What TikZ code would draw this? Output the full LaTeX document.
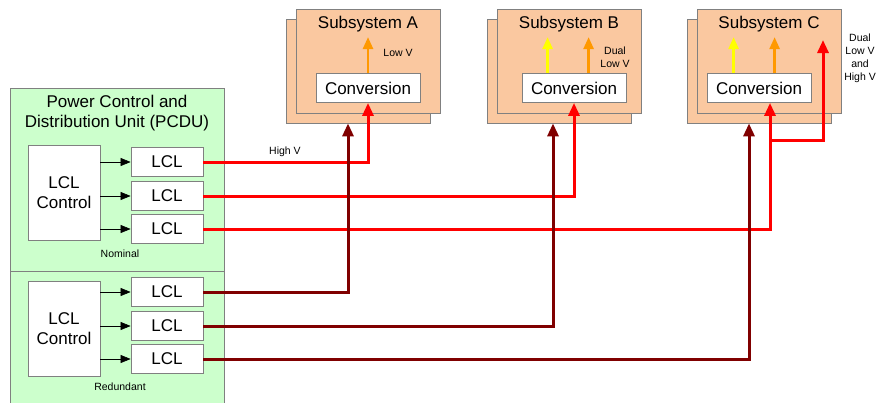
\documentclass[tikz,border=0pt]{standalone}
\usepackage{fontspec}
\setmainfont{Liberation Sans}
\usetikzlibrary{arrows.meta,positioning,calc}
\definecolor{pcdugreen}{RGB}{204,255,204}
\definecolor{syspeach}{RGB}{250,200,160}
\definecolor{edgegray}{RGB}{128,128,128}
\definecolor{hired}{RGB}{255,0,0}
\definecolor{redund}{RGB}{128,0,0}
\definecolor{lvorange}{RGB}{255,153,0}
\definecolor{lvyellow}{RGB}{255,255,0}

\begin{document}
\begin{tikzpicture}[x=1pt,y=-1pt,
    box/.style={draw=edgegray, line width=0.8pt, fill=white, inner sep=0pt,
        font=\fontsize{17}{20}\selectfont},
    lcl/.style={box, minimum width=72pt, minimum height=29pt},
    ctrl/.style={box, minimum width=72pt, minimum height=95pt, align=center},
    conv/.style={box, minimum width=104pt, minimum height=29pt},
    sys/.style={draw=edgegray, line width=0.8pt, fill=syspeach,
        minimum width=144pt, minimum height=104pt, inner sep=0pt},
    small/.style={font=\fontsize{10.5}{13}\selectfont, align=center, inner sep=0pt},
    feed/.style={line width=3pt, -{Triangle[length=13pt,width=11pt]}},
    hv/.style={feed, draw=hired},
    rv/.style={feed, draw=redund},
    lv/.style={feed, line width=2.6pt, -{Triangle[length=12pt,width=10pt]}},
    ctl/.style={line width=0.6pt, -{Triangle[length=10pt,width=8pt]}}]
    \useasboundingbox (0,0) rectangle (877,402);
    \clip (0,0) rectangle (877,402);

    % PCDU
    \draw [draw=edgegray, line width=0.8pt, fill=pcdugreen] (10,88) rectangle (224,420);
    \draw [draw=edgegray, line width=0.8pt] (10,271) -- (224,271);
    \node (pcdu) at (117,113) [font=\fontsize{17}{20}\selectfont, align=center]
        {Power Control and\\Distribution Unit (PCDU)};
    \node (ctrlN) at (64,192.5) [ctrl] {LCL\\Control};
    \node (ctrlR) at (64,329) [ctrl] {LCL\\Control};
    \foreach \i/\y in {1/162,2/196,3/229,4/292,5/326,6/359}
        \node (lcl\i) at (167,\y) [lcl] {LCL};
    \foreach \i in {1,2,3}
        \draw [ctl] (ctrlN.east |- lcl\i) -- (lcl\i.west);
    \foreach \i in {4,5,6}
        \draw [ctl] (ctrlR.east |- lcl\i) -- (lcl\i.west);
    \node (nom) at (120,254) [small] {Nominal};
    \node (red) at (120,387) [small] {Redundant};

    % subsystems, back copy first
    \foreach \s/\x in {A/368,B/569,C/769} {
        \node (back\s) at (\x-10,71) [sys] {};
        \node (sys\s) at (\x,61) [sys] {};
        \node (title\s) at (\x,24) [font=\fontsize{17}{20}\selectfont] {Subsystem \s};
    }
    \node (convA) at (368,88) [conv] {Conversion};
    \node (convB) at (574,88) [conv] {Conversion};
    \node (convC) at (759,88) [conv] {Conversion};

    % low voltage outputs
    \draw [lv, draw=lvorange] (convA.north) -- ++(0,-36);
    \draw [lv, draw=lvyellow] ([xshift=26pt]convB.north west) -- ++(0,-36);
    \draw [lv, draw=lvorange] ([xshift=67pt]convB.north west) -- ++(0,-36);
    \draw [lv, draw=lvyellow] ([xshift=27pt]convC.north west) -- ++(0,-36);
    \draw [lv, draw=lvorange] ([xshift=68pt]convC.north west) -- ++(0,-36);
    \node (lowA) at (398,53) [small] {Low V};
    \node (lowB) at (615,57) [small] {Dual\\Low V};
    \node (lowC) at (860,58) [small] {Dual\\Low V\\and\\High V};

    % nominal feeds
    \draw [hv] (lcl1.east) -| (convA.south);
    \draw [hv] (lcl2.east) -| (convB.south);
    \draw [hv] (lcl3.east) -| ([xshift=11pt]convC.south);
    \coordinate (hvC) at (823,40);
    \draw [hv] ([xshift=11pt]convC.south |- 0,140) -| (hvC);
    \node (high) at (285,152) [small] {High V};

    % redundant feeds
    \draw [rv] (lcl4.east) -| ([xshift=-10pt]backA.south);
    \draw [rv] (lcl5.east) -| ([xshift=-6pt]backB.south);
    \draw [rv] (lcl6.east) -| ([xshift=-10pt]backC.south);
\end{tikzpicture}
\end{document}
